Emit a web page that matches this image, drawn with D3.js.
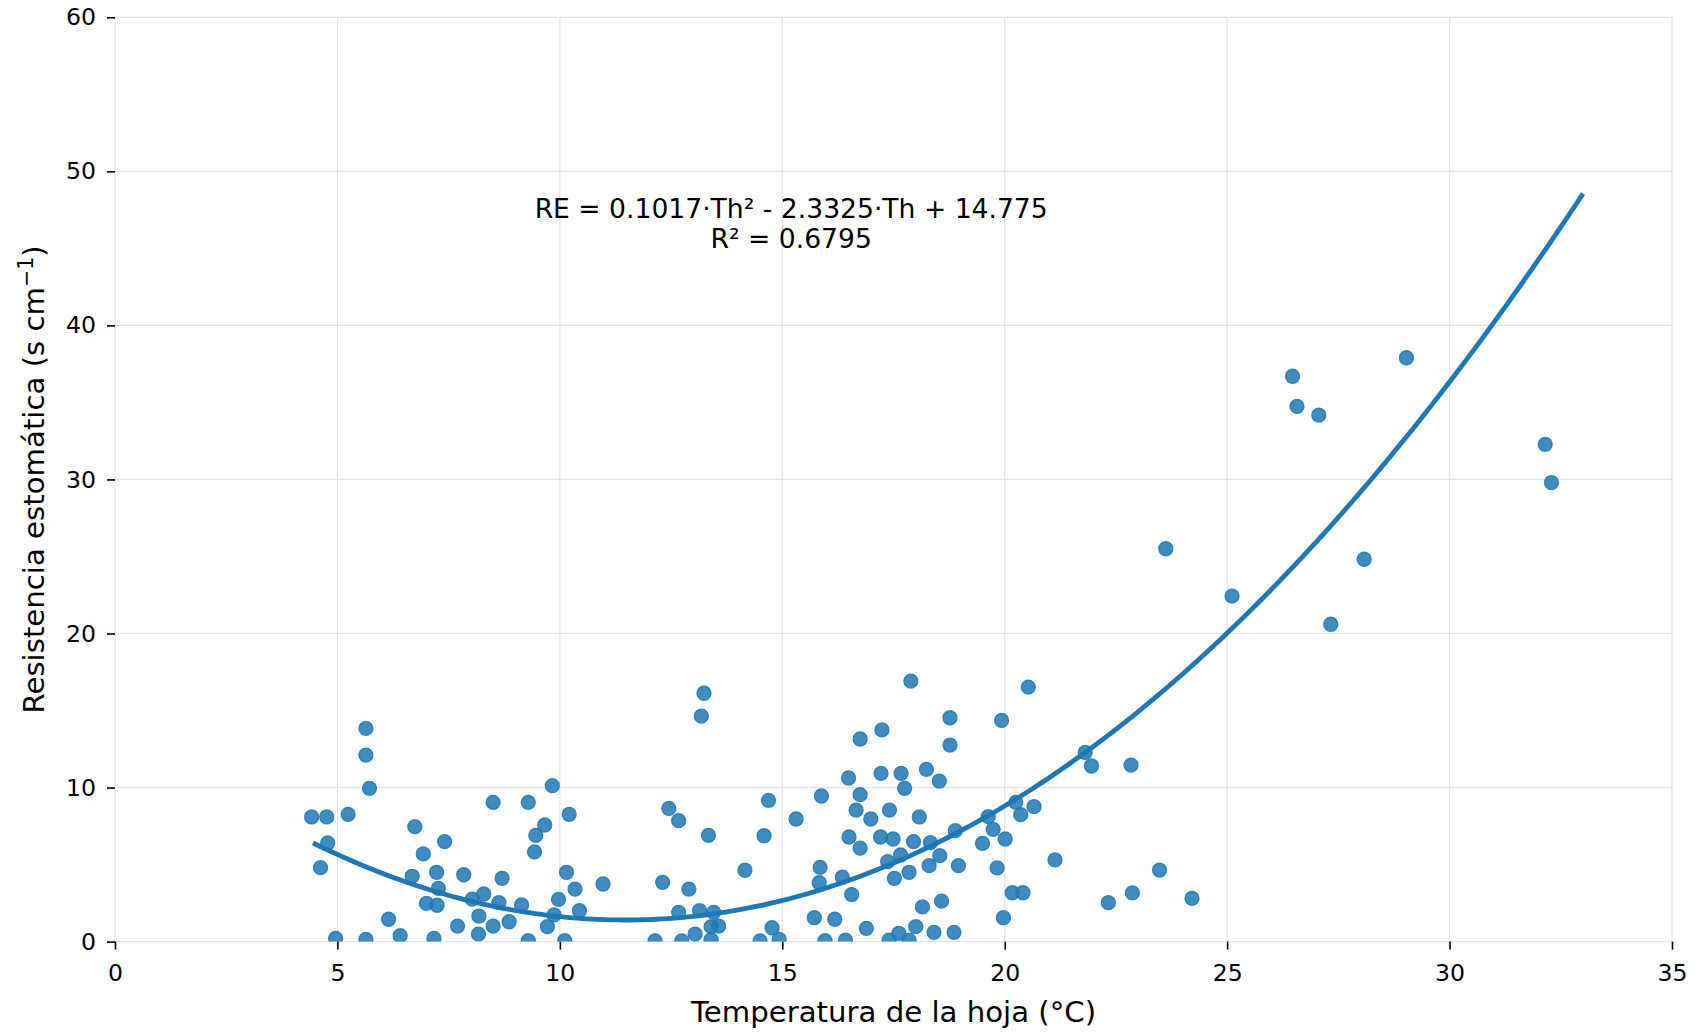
<!DOCTYPE html>
<html>
<head>
<meta charset="utf-8">
<title>Resistencia estomática vs temperatura de la hoja</title>
<script src="https://cdn.jsdelivr.net/npm/d3@7"></script>
<style>
    body { margin: 0; background: #fff; }
    svg { display: block; font-family: "DejaVu Sans", sans-serif; }
</style>
</head>
<body>
<svg id="chart" width="1699" height="1033"></svg>
<script>
    // leaf temperature (°C) and stomatal resistance (s cm-1)
    var temps = [
        4.42, 4.76, 4.78, 4.62, 4.96, 5.24, 5.64, 5.64, 5.72, 5.64,
        6.15, 6.41, 6.68, 6.74, 6.93, 7.00, 7.17, 7.23, 7.27, 7.24,
        7.41, 7.70, 7.84, 8.03, 8.18, 8.17, 8.29, 8.50, 8.50, 8.63,
        8.70, 8.86, 9.14, 9.29, 9.29, 9.43, 9.46, 9.66, 9.72, 9.83,
        9.87, 9.97, 10.11, 10.15, 10.21, 10.34, 10.44, 10.97,
        12.14, 12.31, 12.45, 12.67, 12.67, 12.74, 12.90, 13.04, 13.14, 13.18,
        13.24, 13.34, 13.46, 13.40, 13.57, 13.40, 14.16, 14.50, 14.59, 14.69,
        14.77, 14.93, 15.31,
        15.72, 15.85, 15.83, 15.88, 15.96, 16.18, 16.35, 16.42, 16.49, 16.50,
        16.56, 16.66, 16.75, 16.75, 16.75, 16.89, 16.99, 17.24, 17.22, 17.21,
        17.37, 17.41, 17.40, 17.49, 17.52, 17.62, 17.66, 17.67, 17.75, 17.85,
        17.85, 17.89, 17.95, 18.00, 18.08, 18.15, 18.24, 18.30, 18.33, 18.41,
        18.53, 18.54, 18.58, 18.77, 18.77, 18.86, 18.89, 18.96,
        19.50, 19.63, 19.74, 19.83, 19.93, 19.97, 20.01, 20.17, 20.25, 20.36,
        20.41, 20.53, 20.66, 21.13, 21.81, 21.95, 22.33, 22.84, 22.87, 23.48,
        23.62, 24.21, 25.11,
        26.47, 26.57, 27.06, 27.33, 28.08, 29.03, 32.15, 32.29
    ];
    var resist = [
        8.09, 8.09, 6.40, 4.80, 0.21, 8.26, 13.84, 12.11, 9.95, 0.15,
        1.45, 0.38, 4.24, 7.46, 5.69, 2.48, 0.21, 4.50, 3.46, 2.36,
        6.49, 1.01, 4.34, 2.76, 1.66, 0.49, 3.09, 1.01, 9.04, 2.53,
        4.11, 1.29, 2.38, 9.04, 0.06, 5.82, 6.90, 7.57, 0.97, 10.12,
        1.73, 2.74, 0.06, 4.50, 8.26, 3.41, 2.01, 3.74,
        0.05, 3.85, 8.65, 7.85, 1.90, 0.05, 3.41, 0.49, 2.01, 14.64,
        16.12, 6.90, 1.90, 0.97, 1.01, 0.12, 4.63, 0.04, 6.87, 9.17,
        0.90, 0.15, 7.96,
        1.55, 4.82, 3.82, 9.45, 0.06, 1.45, 4.19, 0.10, 10.62, 6.79,
        3.05, 8.54, 13.15, 9.54, 6.07, 0.86, 7.96, 13.74, 10.92, 6.79,
        5.19, 8.54, 0.10, 6.66, 4.11, 0.54, 5.62, 10.92, 9.95, 4.50,
        0.10, 16.91, 6.49, 0.97, 8.09, 2.25, 11.18, 4.93, 6.42, 0.60,
        10.42, 5.58, 2.63, 14.53, 12.76, 0.60, 7.20, 4.93,
        6.38, 8.11, 7.29, 4.78, 14.36, 1.55, 6.66, 3.17, 9.04, 8.24,
        3.17, 16.52, 8.76, 5.30, 12.28, 11.40, 2.53, 11.46, 3.16, 4.64,
        25.50, 2.81, 22.43,
        36.70, 34.74, 34.18, 20.60, 24.82, 37.90, 32.28, 29.80
    ];

    var xTicks = [0, 5, 10, 15, 20, 25, 30, 35];
    var yTicks = [0, 10, 20, 30, 40, 50, 60];

    // quadratic fit RE = a*Th^2 + b*Th + c
    var fitCoef = [0.1017, -2.3325, 14.775];
    var fitRange = [4.45, 33.0];
    var fitLabel = ["RE = 0.1017·Th² - 2.3325·Th + 14.775", "R² = 0.6795"];

    var width = 1699, height = 1033;
    var margin = {top: 17.3, right: 27, bottom: 91.4, left: 115};
    var innerW = width - margin.left - margin.right;
    var innerH = height - margin.top - margin.bottom;
    var blue = '#1f77b4';

    var svg = d3.select('#chart');
    svg.append('rect').attr('width', width).attr('height', height).attr('fill', '#fff');

    var x = d3.scaleLinear().domain([0, 35]).range([0, innerW]);
    var y = d3.scaleLinear().domain([0, 60]).range([innerH, 0]);

    var g = svg.append('g')
        .attr('transform', 'translate(' + margin.left + ',' + margin.top + ')');

    svg.append('clipPath').attr('id', 'plot-clip')
        .append('rect').attr('width', innerW).attr('height', innerH);

    // grid
    g.append('g').selectAll('line').data(xTicks).enter().append('line')
        .attr('x1', function (d) { return x(d); })
        .attr('x2', function (d) { return x(d); })
        .attr('y1', 0).attr('y2', innerH)
        .attr('stroke', '#e4e4e4').attr('stroke-width', 1.2);
    g.append('g').selectAll('line').data(yTicks).enter().append('line')
        .attr('y1', function (d) { return y(d); })
        .attr('y2', function (d) { return y(d); })
        .attr('x1', 0).attr('x2', innerW)
        .attr('stroke', '#e4e4e4').attr('stroke-width', 1.2);

    // axes (ticks + labels only, no spines)
    var xAxis = g.append('g')
        .attr('transform', 'translate(0,' + innerH + ')')
        .call(d3.axisBottom(x).tickValues(xTicks).tickSize(8).tickPadding(15));
    var yAxis = g.append('g')
        .call(d3.axisLeft(y).tickValues(yTicks).tickSize(8).tickPadding(11));
    [xAxis, yAxis].forEach(function (ax) {
        ax.select('.domain').remove();
        ax.selectAll('.tick line').attr('stroke', '#000').attr('stroke-width', 1.6);
        ax.selectAll('.tick text')
            .attr('fill', '#000')
            .style('font-family', '"DejaVu Sans", sans-serif')
            .style('font-size', '23.6px');
    });

    var plot = g.append('g').attr('clip-path', 'url(#plot-clip)');

    // fitted curve
    var fitPts = d3.range(0, 201).map(function (i) {
        var t = fitRange[0] + (fitRange[1] - fitRange[0]) * i / 200;
        return [t, fitCoef[0] * t * t + fitCoef[1] * t + fitCoef[2]];
    });
    plot.append('path')
        .datum(fitPts)
        .attr('fill', 'none')
        .attr('stroke', blue)
        .attr('stroke-width', 4.8)
        .attr('d', d3.line()
            .x(function (d) { return x(d[0]); })
            .y(function (d) { return y(d[1]); }));

    // scatter
    plot.append('g').selectAll('circle')
        .data(temps.map(function (t, i) { return [t, resist[i]]; }))
        .enter().append('circle')
        .attr('cx', function (d) { return x(d[0]); })
        .attr('cy', function (d) { return y(d[1]); })
        .attr('r', 7)
        .attr('fill', blue).attr('fill-opacity', 0.85)
        .attr('stroke', blue).attr('stroke-opacity', 0.85).attr('stroke-width', 1.3);

    // equation
    var eq = g.append('text')
        .attr('text-anchor', 'middle')
        .attr('font-size', 26.6)
        .attr('fill', '#000');
    fitLabel.forEach(function (s, i) {
        eq.append('tspan')
            .attr('x', x(15.2))
            .attr('y', y(46.95) + i * 30)
            .text(s);
    });

    // axis labels
    svg.append('text')
        .attr('x', margin.left + innerW / 2)
        .attr('y', 1021.5)
        .attr('text-anchor', 'middle')
        .attr('font-size', 29.2)
        .attr('fill', '#000')
        .text('Temperatura de la hoja (°C)');

    var yl = svg.append('text')
        .attr('transform', 'translate(43.5,' + (margin.top + innerH / 2) + ') rotate(-90)')
        .attr('text-anchor', 'middle')
        .attr('font-size', 29.2)
        .attr('fill', '#000');
    yl.append('tspan').text('Resistencia estomática (s cm');
    yl.append('tspan').attr('dy', -11).attr('font-size', 20.5).text('−1');
    yl.append('tspan').attr('dy', 11).text(')');
</script>
</body>
</html>
